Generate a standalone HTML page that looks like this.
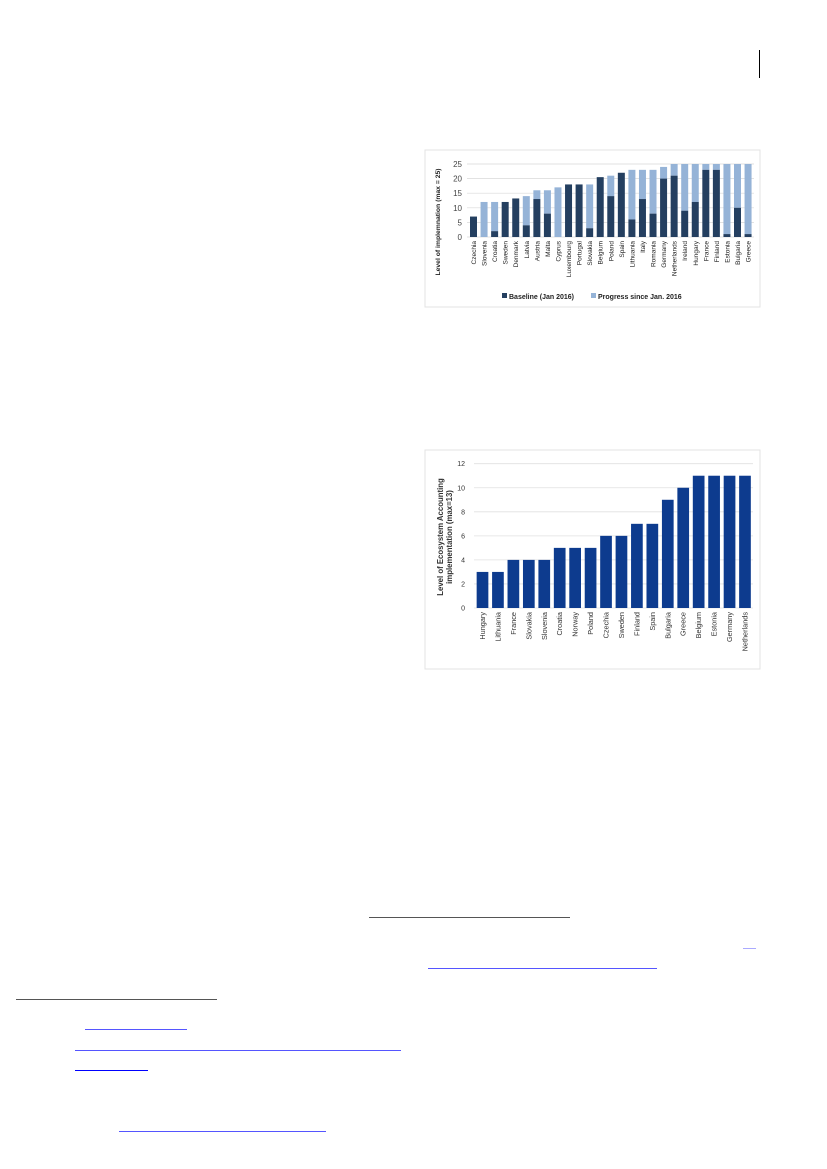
<!DOCTYPE html>
<html><head><meta charset="utf-8"><style>
body{margin:0;width:827px;height:1169px;background:#fff;position:relative;overflow:hidden;font-family:"Liberation Sans",sans-serif}
.ln{position:absolute;height:1px}
svg{position:absolute;left:0;top:0}
</style></head><body>
<div style="position:absolute;left:759px;top:50px;width:1px;height:28px;background:#000"></div>

<svg width="827" height="1169">
<rect x="425" y="150" width="335" height="157" fill="#fff" stroke="#e3e3e3"/>
<g id="c1"></g>
<rect x="425" y="450" width="335" height="219" fill="#fff" stroke="#e3e3e3"/>
<g id="c2"></g>
</svg>

<div class="ln" style="left:369px;top:917px;width:201px;background:#555"></div>
<div class="ln" style="left:428px;top:968px;width:229px;background:#55f"></div>
<div class="ln" style="left:743px;top:948px;width:13px;background:#aaf"></div>
<div class="ln" style="left:16px;top:999px;width:201px;background:#555"></div>
<div class="ln" style="left:85px;top:1029px;width:102px;background:#55f"></div>
<div class="ln" style="left:75px;top:1050px;width:326px;background:#55f"></div>
<div class="ln" style="left:75px;top:1070px;width:73px;background:#00f"></div>
<div class="ln" style="left:119px;top:1131px;width:207px;background:#55f"></div>

<script>
const NS="http://www.w3.org/2000/svg";
function mk(p,t,a,txt){const e=document.createElementNS(NS,t);for(const k in a)e.setAttribute(k,a[k]);if(txt!=null)e.textContent=txt;p.appendChild(e);return e;}

const c1Categories=["Czechia","Slovenia","Croatia","Sweden","Denmark","Latvia","Austria","Malta","Cyprus","Luxembourg","Portugal","Slovakia","Belgium","Poland","Spain","Lithuania","Italy","Romania","Germany","Netherlands","Ireland","Hungary","France","Finland","Estonia","Bulgaria","Greece"];
const c1Baseline=[7,0,2,12,13.2,4,13,8,0,18,18,3,20.5,14,22,6,13,8,20,21,9,12,23,23,1,10,1];
const c1Total=[7,12,12,12,13.2,14,16,16,17,18,18,18,20.5,21,22,23,23,23,24,25,25,25,25,25,25,25,25];
const c1Ticks=[0,5,10,15,20,25];

const c2Categories=["Hungary","Lithuania","France","Slovakia","Slovenia","Croatia","Norway","Poland","Czechia","Sweden","Finland","Spain","Bulgaria","Greece","Belgium","Estonia","Germany","Netherlands"];
const c2Values=[3,3,4,4,4,5,5,5,6,6,7,7,9,10,11,11,11,11];
const c2Ticks=[0,2,4,6,8,10,12];

// Chart 1
(function(){
 const g=document.getElementById('c1');
 const y=v=>237-v*(73/25), x=i=>473.5+i*10.56, bw=7;
 c1Ticks.forEach(t=>{
  const l=mk(g,'line',{x1:467,x2:754,y1:y(t),y2:y(t),stroke:'#d9d9d9','stroke-width':0.7});
  
  
  const tx=mk(g,'text',{x:462,y:y(t)+3,'font-size':8,'text-anchor':'end',fill:'#444'},t);
  
  
 });
 c1Categories.forEach((c,i)=>{
  const p=mk(g,'rect',{x:x(i)-bw/2,y:y(c1Total[i]),width:bw,height:y(c1Baseline[i])-y(c1Total[i]),fill:'#95b3d7'});
  
  
  const b=mk(g,'rect',{x:x(i)-bw/2,y:y(c1Baseline[i]),width:bw,height:237-y(c1Baseline[i]),fill:'#243f60'});
  
  
  const t=mk(g,'text',{transform:`translate(${x(i)+2.5},241) rotate(-90)`,'font-size':6.5,'text-anchor':'end',fill:'#222'},c);
  
  
 });
 const yt=mk(g,'text',{transform:'translate(440,222) rotate(-90)','font-size':6.8,'font-weight':'bold','text-anchor':'middle',fill:'#222'},'Level of implemnation (max = 25)');
 
 
 const l1=mk(g,'rect',{x:502,y:293,width:5,height:5,fill:'#243f60'});
 
 
 const lt1=mk(g,'text',{x:509,y:299,'font-size':7,'font-weight':'bold',fill:'#222'},'Baseline (Jan 2016)');
 
 
 const l2=mk(g,'rect',{x:591,y:293,width:5,height:5,fill:'#95b3d7'});
 
 
 const lt2=mk(g,'text',{x:598,y:299,'font-size':7,'font-weight':'bold',fill:'#222'},'Progress since Jan. 2016');
 
 
})();

// Chart 2
(function(){
 const g=document.getElementById('c2');
 const y=v=>608-v*(144.3/12), x=i=>482.5+i*15.44, bw=11.7;
 c2Ticks.forEach(t=>{
  const l=mk(g,'line',{x1:474,x2:753,y1:y(t),y2:y(t),stroke:'#e0e0e0','stroke-width':0.8});
  
  
  const tx=mk(g,'text',{x:465,y:y(t)+2.5,'font-size':7,'text-anchor':'end',fill:'#333'},t);
  
  
 });
 c2Categories.forEach((c,i)=>{
  const b=mk(g,'rect',{x:x(i)-bw/2,y:y(c2Values[i]),width:bw,height:608-y(c2Values[i]),fill:'#0d3b8e'});
  
  
  const t=mk(g,'text',{transform:`translate(${x(i)+2.5},612) rotate(-90)`,'font-size':7.3,'text-anchor':'end',fill:'#333'},c);
  
  
 });
 const a=mk(g,'text',{transform:'translate(443,537) rotate(-90)','font-size':7.8,'font-weight':'bold','text-anchor':'middle',fill:'#333'},'Level of Ecosystem Accounting');
 
 
 const b2=mk(g,'text',{transform:'translate(452,537) rotate(-90)','font-size':7.8,'font-weight':'bold','text-anchor':'middle',fill:'#333'},'implementation (max=13)');
 
 
})();
</script>
</body></html>
